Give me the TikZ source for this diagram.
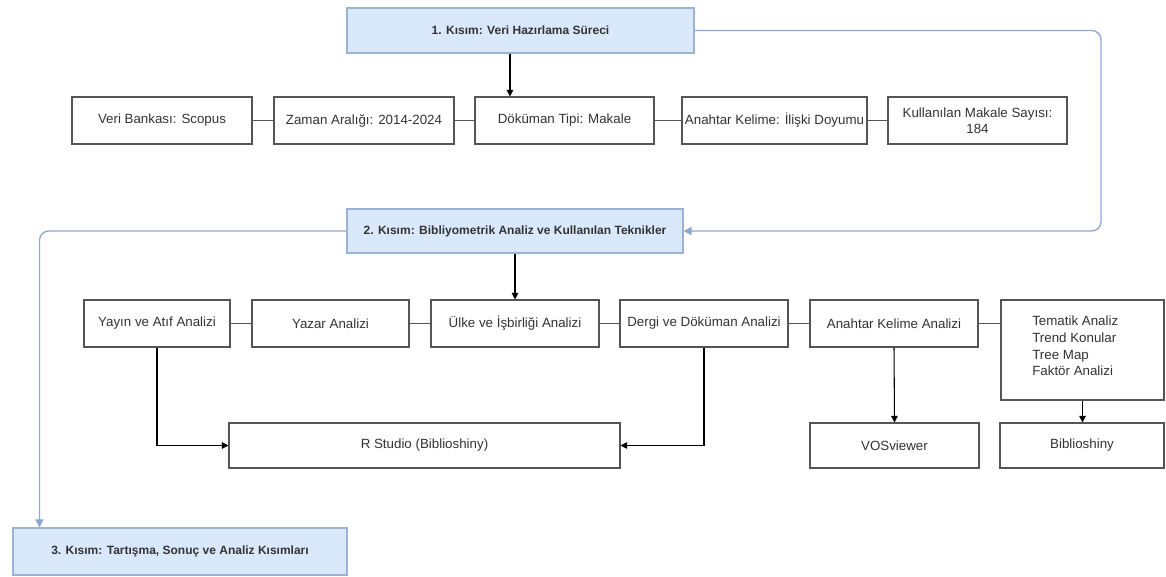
\documentclass[tikz,border=0pt]{standalone}
\usepackage{fontspec}
\setmainfont{Liberation Sans}
\usetikzlibrary{arrows.meta}
\definecolor{hdrfill}{HTML}{DAE8FC}
\definecolor{hdrline}{HTML}{9DB3D3}
\definecolor{loopline}{HTML}{8EA8CC}
\definecolor{boxline}{HTML}{555555}
\definecolor{txt}{HTML}{333333}
\tikzset{
  bx/.style={draw=boxline, line width=0.8pt, fill=white, inner sep=1pt, align=center,
    text=txt, font=\fontsize{10}{12}\selectfont},
  hdr/.style={draw=hdrline, line width=0.8pt, fill=hdrfill, inner sep=1pt, align=center,
    text=txt, font=\bfseries\fontsize{9}{11}\selectfont},
  link/.style={draw=boxline, line width=0.8pt},
  arr/.style={draw=black, line width=0.8pt, -{Triangle[length=5pt,width=5pt]}},
  blarr/.style={draw=loopline, line width=1pt, rounded corners=7pt, -{Triangle[length=6pt,width=6pt]}}
}
\begin{document}
\begin{tikzpicture}[x=0.75pt,y=-0.75pt]
\useasboundingbox (0,0) rectangle (1166,577);
% headers
\node[hdr, minimum width=260.25pt, minimum height=33.75pt] (b1) at (520.5,30.5) {1. Kısım: Veri Hazırlama Süreci};
\node[hdr, minimum width=252pt, minimum height=33pt] (b2) at (515,231) {2. Kısım: Bibliyometrik Analiz ve Kullanılan Teknikler};
\node[hdr, minimum width=250.5pt, minimum height=35.25pt] (b3) at (180,551.5) {3. Kısım: Tartışma, Sonuç ve Analiz Kısımları};
% row 1
\node[bx, minimum width=135pt, minimum height=35.25pt] (veri) at (162,120.5) {Veri Bankası: Scopus};
\node[bx, minimum width=135pt, minimum height=35.25pt] (zaman) at (364,120.5) {Zaman Aralığı: 2014-2024};
\node[bx, minimum width=134.25pt, minimum height=35.25pt] (dok) at (564.5,120.5) {Döküman Tipi: Makale};
\node[bx, minimum width=138.75pt, minimum height=35.25pt, inner sep=0pt] (anah) at (774.5,120.5) {Anahtar Kelime: İlişki Doyumu};
\node[bx, minimum width=134.25pt, minimum height=35.25pt] (kull) at (977.5,120.5) {Kullanılan Makale Sayısı:\\184};
% row 2
\node[bx, minimum width=109.5pt, minimum height=35.25pt] (yayin) at (157,323.5) {Yayın ve Atıf Analizi};
\node[bx, minimum width=117.75pt, minimum height=35.25pt] (yazar) at (330.5,323.5) {Yazar Analizi};
\node[bx, minimum width=126pt, minimum height=35.25pt] (ulke) at (515,323.5) {Ülke ve İşbirliği Analizi};
\node[bx, minimum width=126pt, minimum height=35.25pt] (dergi) at (704,323.5) {Dergi ve Döküman Analizi};
\node[bx, minimum width=126pt, minimum height=35.25pt] (akel) at (894,323.5) {Anahtar Kelime Analizi};
\node[bx, minimum width=122.25pt, minimum height=75pt] (tema) at (1082.5,350) {};
\node[anchor=north west, inner sep=0pt, align=left, text=txt, font=\fontsize{10}{12.5}\selectfont] (tematext) at (1032,316) {Tematik Analiz\\Trend Konular\\Tree Map\\Faktör Analizi};
% row 3
\node[bx, minimum width=293.25pt, minimum height=33.75pt] (rst) at (424.5,445.5) {R Studio (Biblioshiny)};
\node[bx, minimum width=126.75pt, minimum height=33.75pt] (vos) at (894.5,445.5) {VOSviewer};
\node[bx, minimum width=123pt, minimum height=33.75pt] (bib) at (1082,445.5) {Biblioshiny};
% row links
\draw[link] (veri.east) -- (zaman.west);
\draw[link] (zaman.east) -- (dok.west);
\draw[link] (dok.east) -- (anah.west);
\draw[link] (anah.east) -- (kull.west);
\draw[link] (yayin.east) -- (yazar.west);
\draw[link] (yazar.east) -- (ulke.west);
\draw[link] (ulke.east) -- (dergi.west);
\draw[link] (dergi.east) -- (akel.west);
\draw[link] (akel.east) -- (akel.east -| tema.west);
% arrows
\draw[arr] ([xshift=-7.9pt]b1.south) -- ([xshift=-7.9pt]b1.south |- dok.north);
\draw[arr] (b2.south) -- (ulke.north);
\draw[arr] (yayin.south) |- (rst.west);
\draw[arr] (dergi.south) |- (rst.east);
\draw[arr] (akel.south) -- (vos.north);
\draw[arr] (tema.south) -- (tema.south |- bib.north);
% blue loops
\coordinate (rc) at (1101,30.5);
\draw[blarr] (b1.east) -- (rc) |- (b2.east);
\draw[blarr] (b2.west) -| ([xshift=20.25pt]b3.north west);
\end{tikzpicture}
\end{document}
